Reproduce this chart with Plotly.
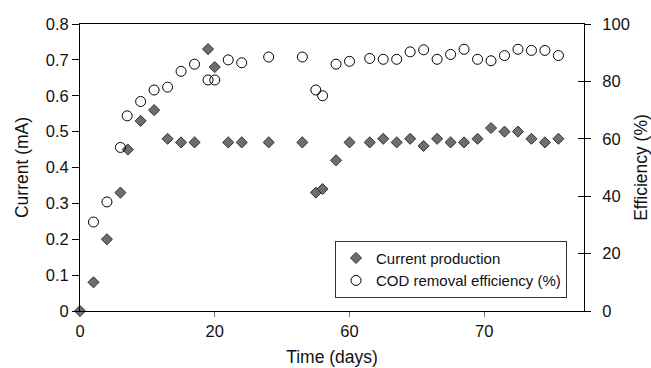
import plotly.graph_objects as go

# x positions on the (non-linear labelled) time axis
cur_x = [0, 2, 4, 6, 7.1, 9, 11, 13, 15, 17, 19, 20, 22, 24, 28, 33, 35, 36, 38, 40,
         43, 45, 47, 49, 51, 53, 55, 57, 59, 61, 63, 65, 67, 69, 71]
cur_y = [0, 0.08, 0.2, 0.33, 0.45, 0.53, 0.56, 0.48, 0.47, 0.47, 0.73, 0.68, 0.47, 0.47,
         0.47, 0.47, 0.33, 0.34, 0.42, 0.47, 0.47, 0.48, 0.47, 0.48, 0.46, 0.48, 0.47,
         0.47, 0.48, 0.51, 0.50, 0.50, 0.48, 0.47, 0.48]

cod_x = [2, 4, 6, 7, 9, 11, 13, 15, 17, 19, 20, 22, 24, 28, 33, 35, 36, 38, 40,
         43, 45, 47, 49, 51, 53, 55, 57, 59, 61, 63, 65, 67, 69, 71]
cod_y = [31, 38, 57, 68, 73, 77, 78, 83.5, 86, 80.5, 80.5, 87.5, 86.5, 88.5, 88.5, 77, 75,
         86, 87, 88, 87.7, 87.7, 90.3, 91, 87.7, 89.4, 91.2, 87.7, 87.2, 89, 91.2, 90.8,
         90.8, 89]

x_tickvals = [0, 20, 40, 60]
x_ticktext = ["0", "20", "60", "70"]

FONT = "Liberation Sans, Arial, sans-serif"
TICK = 16.5
TITLE = 17.5

fig = go.Figure()
fig.add_trace(go.Scatter(
    x=cur_x, y=cur_y, mode="markers", name="Current production", cliponaxis=False,
    marker=dict(symbol="diamond", size=8.5, color="#6e6e6e",
                line=dict(color="#303030", width=1)),
))
fig.add_trace(go.Scatter(
    x=cod_x, y=cod_y, mode="markers", name="COD removal efficiency (%)", yaxis="y2",
    cliponaxis=False,
    marker=dict(symbol="circle-open", size=10, color="#000000", line=dict(width=1)),
))
fig.add_trace(go.Scatter(x=[None], y=[None], yaxis="y3", showlegend=False,
                         hoverinfo="skip"))

fig.update_layout(
    width=651, height=368,
    margin=dict(l=80, r=67, t=24, b=57),
    paper_bgcolor="white", plot_bgcolor="white",
    font=dict(family=FONT, size=TICK, color="#111111"),
    showlegend=True,
    legend=dict(
        x=0.506, y=0.245, xanchor="left", yanchor="top",
        bgcolor="white", bordercolor="#333333", borderwidth=1,
        font=dict(size=15), itemwidth=30, tracegroupgap=0, entrywidth=210,
    ),
    xaxis=dict(
        range=[0, 74.8], tickvals=x_tickvals, ticktext=x_ticktext, automargin=False,
        showgrid=False, zeroline=False, showline=True, linecolor="black",
        linewidth=1, mirror=True, ticks="outside", ticklen=5, tickcolor="#777777",
        tickfont=dict(size=TICK),
        title=dict(text="Time (days)", standoff=11, font=dict(size=TITLE)),
    ),
    yaxis=dict(
        range=[0, 0.8], dtick=0.1, showgrid=False, zeroline=False, automargin=False,
        showline=True, linecolor="black", linewidth=1, ticks="outside",
        ticklen=7, tickcolor="black", tickfont=dict(size=TICK),
        title=dict(text="Current (mA)", standoff=12, font=dict(size=TITLE)),
    ),
    yaxis2=dict(
        range=[0, 100], dtick=20, overlaying="y", side="right", anchor="x",
        showgrid=False, zeroline=False, showline=True, linecolor="black",
        linewidth=1, ticks="outside", ticklen=6, tickcolor="black", automargin=False,
        ticklabelstandoff=8, tickfont=dict(size=TICK),
        title=dict(text="Efficiency (%)", standoff=9, font=dict(size=TITLE)),
    ),
    yaxis3=dict(
        range=[0, 100], dtick=20, overlaying="y", side="right", anchor="x",
        showgrid=False, zeroline=False, showline=False, ticks="inside",
        ticklen=6, tickcolor="black", showticklabels=False,
    ),
)

fig.write_html("out.html")
